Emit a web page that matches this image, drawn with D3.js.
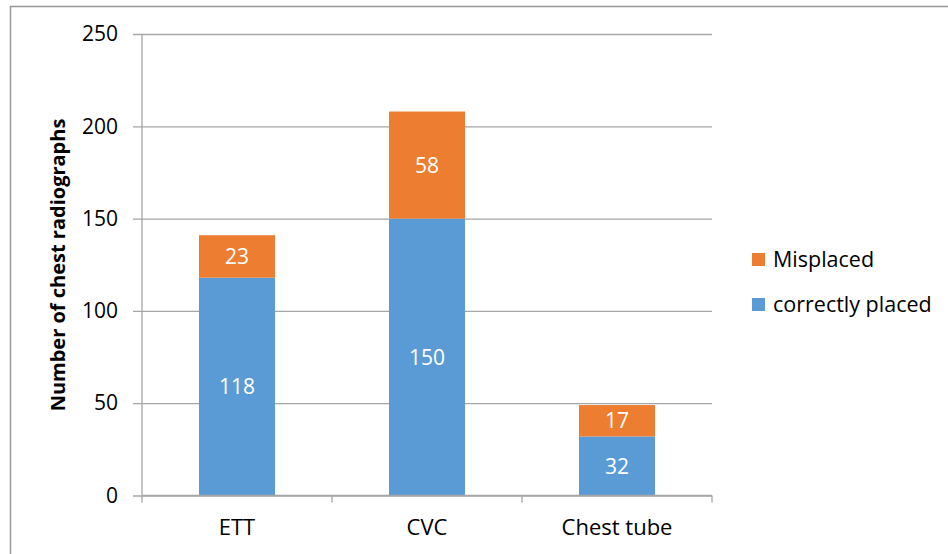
<!DOCTYPE html>
<html>
<head>
<meta charset="utf-8">
<script src="https://cdn.jsdelivr.net/npm/d3@7/dist/d3.min.js"></script>
<style>
  html, body { margin: 0; padding: 0; background: #fff; }
  svg { display: block; font-family: "Open Sans", "Noto Sans", sans-serif; }
</style>
</head>
<body>
<svg id="chart" width="948" height="554"></svg>
<script>
// Chest radiograph device placement counts
const categories = ["ETT", "CVC", "Chest tube"];
const correctlyPlaced = [118, 150, 32];
const misplaced = [23, 58, 17];
const seriesNames = ["correctly placed", "Misplaced"];
const seriesColors = ["#5B9BD5", "#ED7D31"];
const yTicks = [0, 50, 100, 150, 200, 250];
const yTitle = "Number of chest radiographs";

const svg = d3.select("#chart");

// outer frame (left and top edges visible)
svg.append("path")
  .attr("d", "M10.5,554 L10.5,6.5 L948,6.5")
  .attr("fill", "none").attr("stroke", "#999").attr("stroke-width", 1.5);

const plot = { left: 142, right: 712, top: 34, bottom: 495.5 };

const x = d3.scaleBand().domain(categories)
  .range([plot.left, plot.right]).paddingInner(0.6).paddingOuter(0.3);
const y = d3.scaleLinear().domain([0, 250]).range([plot.bottom, plot.top]);

// horizontal gridlines with left tick stubs
const yAxis = d3.axisLeft(y).tickValues(yTicks).tickSize(plot.right - plot.left + 9).tickPadding(15);
const gy = svg.append("g").attr("transform", `translate(${plot.right},0)`).call(yAxis);
gy.select(".domain").remove();
gy.selectAll(".tick line").attr("stroke", "#A6A6A6").attr("stroke-width", 1.3);
gy.selectAll(".tick text").attr("fill", "#000").attr("font-size", 21)
  .attr("font-family", "'Open Sans', sans-serif");

// vertical axis line
svg.append("line")
  .attr("x1", plot.left).attr("x2", plot.left)
  .attr("y1", y(250)).attr("y2", y(0))
  .attr("stroke", "#A6A6A6").attr("stroke-width", 1.3);

// stacked data
const stackData = categories.map((c, i) => ({ cat: c, correct: correctlyPlaced[i], mis: misplaced[i] }));
const stack = d3.stack().keys(["correct", "mis"])(stackData);

const layers = svg.append("g").selectAll("g").data(stack).join("g")
  .attr("fill", (d, i) => seriesColors[i]);
layers.selectAll("rect").data(d => d).join("rect")
  .attr("x", d => x(d.data.cat))
  .attr("width", x.bandwidth())
  .attr("y", d => y(d[1]))
  .attr("height", d => y(d[0]) - y(d[1]));

// value labels centred in each segment
layers.each(function (layer) {
  d3.select(this).selectAll("text").data(layer).join("text")
    .attr("x", d => x(d.data.cat) + x.bandwidth() / 2)
    .attr("y", d => (y(d[0]) + y(d[1])) / 2)
    .attr("dy", "0.36em")
    .attr("text-anchor", "middle")
    .attr("fill", "#fff")
    .attr("font-size", 21)
    .text(d => d[1] - d[0]);
});

// category axis
const step = (plot.right - plot.left) / categories.length;
const gx = svg.append("g");
gx.append("line")
  .attr("x1", plot.left).attr("x2", plot.right)
  .attr("y1", plot.bottom).attr("y2", plot.bottom)
  .attr("stroke", "#A6A6A6").attr("stroke-width", 1.3);
gx.selectAll("line.tk").data(d3.range(categories.length + 1)).join("line")
  .attr("class", "tk")
  .attr("x1", i => plot.left + i * step).attr("x2", i => plot.left + i * step)
  .attr("y1", plot.bottom).attr("y2", plot.bottom + 7)
  .attr("stroke", "#A6A6A6").attr("stroke-width", 1.3);
gx.selectAll("text").data(categories).join("text")
  .attr("x", d => x(d) + x.bandwidth() / 2)
  .attr("y", 535)
  .attr("text-anchor", "middle")
  .attr("font-size", 22)
  .attr("fill", "#000")
  .text(d => d);

// y-axis title
svg.append("text")
  .attr("transform", `translate(65,${(113 + 417) / 2}) rotate(-90)`)
  .attr("text-anchor", "middle")
  .attr("font-size", 20)
  .attr("font-weight", "bold")
  .attr("fill", "#000")
  .text(yTitle);

// legend (Misplaced listed first)
const legendItems = [1, 0];
const lg = svg.append("g").selectAll("g").data(legendItems).join("g")
  .attr("transform", (d, i) => `translate(752,${253 + i * 45})`);
lg.append("rect").attr("width", 13).attr("height", 13).attr("fill", d => seriesColors[d]);
lg.append("text").attr("x", 21).attr("y", 14)
  .attr("font-size", 21.5).attr("fill", "#000")
  .text(d => seriesNames[d]);
</script>
</body>
</html>
